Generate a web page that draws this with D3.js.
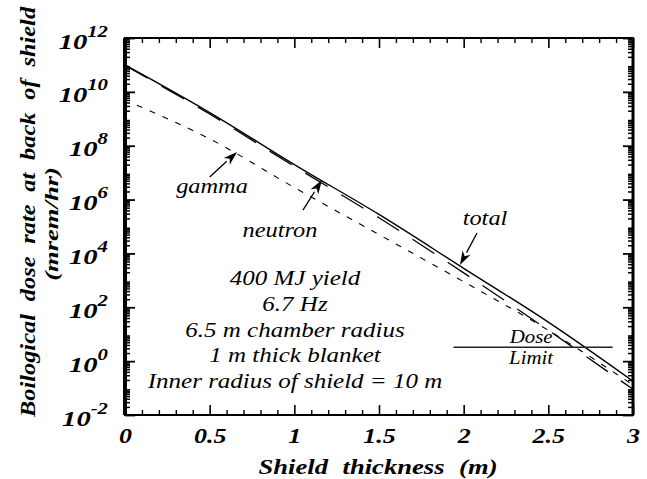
<!DOCTYPE html>
<html><head><meta charset="utf-8">
<script src="https://cdn.jsdelivr.net/npm/d3@7"></script>
<style>
body{margin:0;background:#fff}
svg{display:block}
</style></head><body>
<svg id="c" width="647" height="479" font-family="Liberation Serif"></svg>
<script>
// ---- data ----
const thickness = [0, 0.5, 1, 1.5, 2, 2.5, 3];
const totalDose = [1e11, 1.7e9, 2.0e7, 2.8e5, 2.8e3, 28, 0.18];
const neutronDose = [9.5e10, 1.5e9, 1.7e7, 2.1e5, 1.9e3, 14, 0.09];
const gammaThickness = [0.07, 0.5, 1, 1.5, 2, 2.5, 3];
const gammaDose = [3.2e9, 1.8e8, 2.8e6, 5.0e4, 890, 14, 0.13];
const doseLimit = 3.3;
const doseLimitSpan = [1.94, 2.88];
const xTicks = [0, 0.5, 1, 1.5, 2, 2.5, 3];
const yTicks = [1e-2, 1, 1e2, 1e4, 1e6, 1e8, 1e10, 1e12];
const noteLines = ["400 MJ yield", "6.7 Hz", "6.5 m chamber radius", "1 m thick blanket", "Inner radius of shield = 10 m"];
const arrowLabels = ["gamma", "neutron", "total"];
const arrowTails = [[0.50, 10 ** 6.84], [1.051, 10 ** 5.61], [2.079, 10 ** 4.76]];
const arrowHeads = [[0.662, 10 ** 7.77], [1.163, 10 ** 6.73], [1.978, 10 ** 3.57]];

// ---- layout ----
const FONT = "Liberation Serif";
const svg = d3.select("#c");
const L = 125, R = 633, T = 38, B = 415;
const x = d3.scaleLinear().domain([0, 3]).range([L, R]);
const y = d3.scaleLog().domain([1e-2, 1e12]).range([B, T]);

const minorY = [];
for (let e = -2; e < 12; e++) for (let m = 2; m <= 9; m++) minorY.push(m * 10 ** e);
const minorX = d3.range(0, 31).map(i => i / 10).filter(v => Math.abs(v * 2 - Math.round(v * 2)) > 1e-6);

function style(g, w) {
  g.attr("font-family", FONT);
  g.select(".domain").remove();
  g.selectAll(".tick line").attr("stroke", "#000").attr("stroke-width", w);
}

// left
const ySX = 1.3, yPad = 17;
const gl = svg.append("g").attr("transform", `translate(${L},0)`)
  .call(d3.axisLeft(y).tickValues(yTicks).tickSize(-10).tickPadding(yPad).tickFormat(""));
style(gl, 1.8);
svg.append("g").attr("transform", `translate(${L},0)`)
  .call(d3.axisLeft(y).tickValues(minorY).tickSize(-5).tickFormat("")).call(g => style(g, 1.5));
gl.selectAll(".tick text").each(function (d) {
  const t = d3.select(this);
  t.attr("dy", null).attr("y", 10).attr("x", -yPad / ySX).attr("transform", `scale(${ySX},1)`)
    .attr("text-anchor", "end").attr("fill", "#000")
    .attr("font-size", 22).attr("font-weight", "bold").attr("font-style", "italic");
  t.append("tspan").text("10");
  t.append("tspan").attr("dy", -12).attr("font-size", 16)
    .text(String(Math.round(Math.log10(d))));
});
// right
svg.append("g").attr("transform", `translate(${R},0)`)
  .call(d3.axisRight(y).tickValues(yTicks).tickSize(-10).tickFormat("")).call(g => style(g, 1.8));
svg.append("g").attr("transform", `translate(${R},0)`)
  .call(d3.axisRight(y).tickValues(minorY).tickSize(-5).tickFormat("")).call(g => style(g, 1.5));
// bottom
const gb = svg.append("g").attr("transform", `translate(0,${B})`)
  .call(d3.axisBottom(x).tickValues(xTicks).tickSize(-10).tickPadding(14).tickFormat(d => String(d)));
style(gb, 1.6);
gb.selectAll(".tick text").attr("font-size", 20).attr("font-weight", "bold").attr("fill", "#000")
  .attr("font-style", "italic").attr("transform", "scale(1.3,1)");
svg.append("g").attr("transform", `translate(0,${B})`)
  .call(d3.axisBottom(x).tickValues(minorX).tickSize(-5).tickFormat("")).call(g => style(g, 1.4));
// top
svg.append("g").attr("transform", `translate(0,${T})`)
  .call(d3.axisTop(x).tickValues(xTicks).tickSize(-10).tickFormat("")).call(g => style(g, 1.6));
svg.append("g").attr("transform", `translate(0,${T})`)
  .call(d3.axisTop(x).tickValues(minorX).tickSize(-5).tickFormat("")).call(g => style(g, 1.4));

// frame
svg.append("rect").attr("x", L).attr("y", T).attr("width", R - L).attr("height", B - T)
  .attr("fill", "none").attr("stroke", "#000").attr("stroke-width", 2);
svg.append("line").attr("x1", L).attr("x2", L).attr("y1", T).attr("y2", B)
  .attr("stroke", "#000").attr("stroke-width", 4);
svg.append("line").attr("x1", R).attr("x2", R).attr("y1", T).attr("y2", B)
  .attr("stroke", "#000").attr("stroke-width", 3);

// series
const line = d3.line().x(d => x(d[0])).y(d => y(d[1])).curve(d3.curveMonotoneX);
svg.append("path").datum(d3.zip(gammaThickness, gammaDose)).attr("d", line)
  .attr("fill", "none").attr("stroke", "#000").attr("stroke-width", 1.1).attr("stroke-dasharray", "6,8");
svg.append("path").datum(d3.zip(thickness, neutronDose)).attr("d", line)
  .attr("fill", "none").attr("stroke", "#000").attr("stroke-width", 1.3).attr("stroke-dasharray", "26,16");
svg.append("path").datum(d3.zip(thickness, totalDose)).attr("d", line)
  .attr("fill", "none").attr("stroke", "#000").attr("stroke-width", 1.4);

// text helper (horizontal stretch instead of letter-spacing)
function label(px, py, str, size, sx, opts = {}) {
  const t = svg.append("text")
    .attr("transform", `translate(${px},${py})${opts.rotate ? " rotate(-90)" : ""} scale(${sx},1)`)
    .attr("text-anchor", opts.anchor || "middle").attr("font-family", FONT)
    .attr("font-size", size).attr("font-style", "italic").attr("fill", "#000")
    .attr("font-weight", opts.bold ? "bold" : "normal");
  if (opts.ws) t.attr("word-spacing", opts.ws);
  return t.text(str);
}

// dose limit
svg.append("line").attr("x1", x(doseLimitSpan[0])).attr("x2", x(doseLimitSpan[1]))
  .attr("y1", y(doseLimit)).attr("y2", y(doseLimit)).attr("stroke", "#222").attr("stroke-width", 1.5);
label(x(d3.mean(doseLimitSpan)) - 2, y(doseLimit) - 4, "Dose", 18, 1.16);
label(x(d3.mean(doseLimitSpan)) - 2, y(doseLimit) + 17, "Limit", 18, 1.16);

// arrows + labels
const labelPos = [[212, 193], [280, 237], [485, 225]];
arrowLabels.forEach((lab, i) => {
  const [x0, y0] = [x(arrowTails[i][0]), y(arrowTails[i][1])];
  const [x1, y1] = [x(arrowHeads[i][0]), y(arrowHeads[i][1])];
  const a = Math.atan2(y1 - y0, x1 - x0);
  const len = 14, hw = 4.5;
  const bx = x1 - len * Math.cos(a), by = y1 - len * Math.sin(a);
  svg.append("line").attr("x1", x0).attr("y1", y0).attr("x2", bx).attr("y2", by)
    .attr("stroke", "#000").attr("stroke-width", 1.3);
  svg.append("path").attr("fill", "#000")
    .attr("d", `M${x1},${y1}L${bx + hw * Math.sin(a)},${by - hw * Math.cos(a)}L${bx + 4 * Math.cos(a)},${by + 4 * Math.sin(a)}L${bx - hw * Math.sin(a)},${by + hw * Math.cos(a)}Z`);
  label(labelPos[i][0], labelPos[i][1], lab, 21, 1.16);
});

// note block
noteLines.forEach((s, i) => label(295, 285 + i * 25.8, s, 20, 1.25));

// axis titles
label(378, 474, "Shield thickness (m)", 20, 1.33, { bold: true, ws: 6 });
label(35, 212, "Boilogical dose rate at back of shield", 22, 1.11, { bold: true, ws: 6, rotate: true });
label(58, 224, "(mrem/hr)", 19, 1.4, { bold: true, rotate: true });
</script>
</body></html>
